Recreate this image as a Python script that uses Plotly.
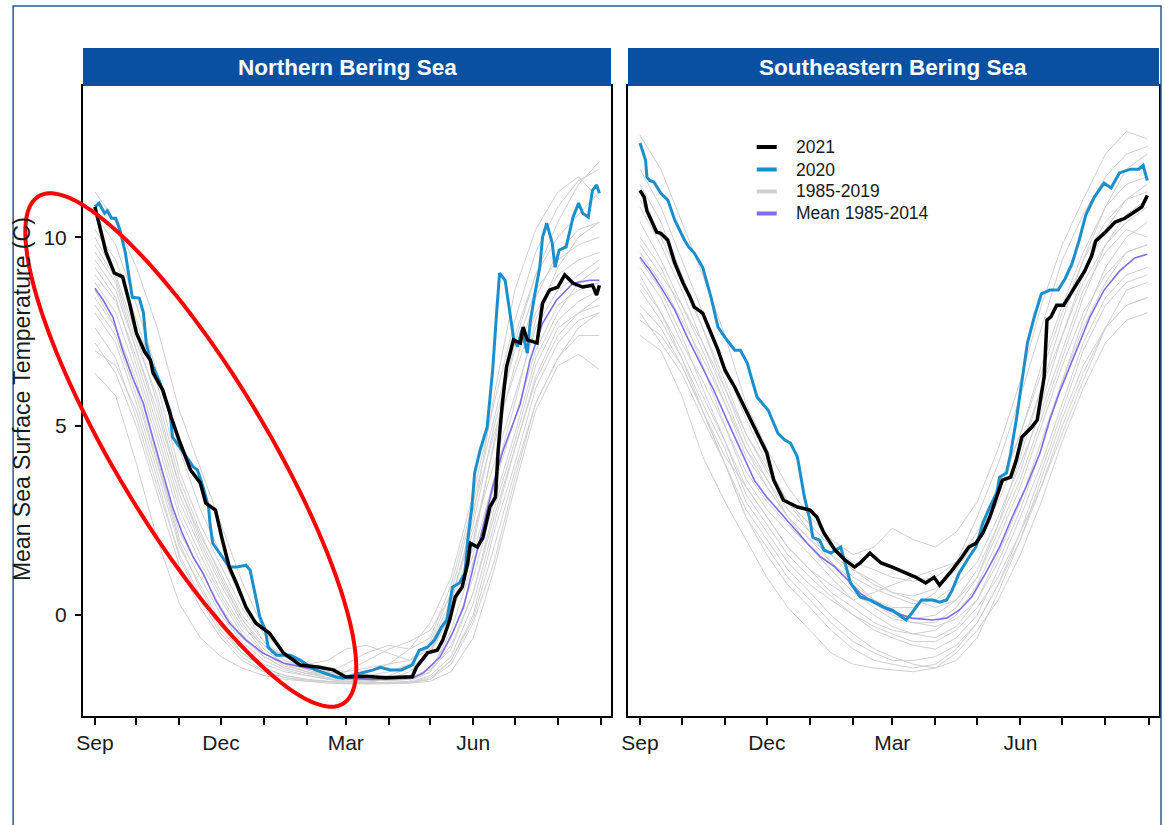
import numpy as np
import pandas as pd
import plotly.graph_objects as go

# ---------------------------------------------------------------------------
# Daily mean sea surface temperature (deg C) by day of season (0 = 1 Sep)
# ---------------------------------------------------------------------------
SEASON_START = pd.Timestamp("2020-09-01")

# Northern Bering Sea -------------------------------------------------------
nbs_2021_day = [0, 8, 14, 20, 25, 30, 36, 40, 42, 49, 55, 61, 69, 76, 80, 87, 92, 97, 102,
                109, 116, 126, 136, 148, 162, 172, 181, 195, 210, 229, 232, 240, 247, 251,
                256, 260, 265, 269, 271, 276, 280, 285, 289, 291, 294, 297, 302, 307, 309,
                312, 319, 323, 328, 334, 339, 345, 352, 359, 362, 364]
nbs_2021_sst = [10.8, 9.6, 9.05, 8.95, 8.25, 7.46, 6.96, 6.75, 6.4, 5.95, 5.24, 4.6, 3.84,
                3.5, 2.96, 2.78, 1.98, 1.27, 0.85, 0.21, -0.21, -0.48, -1.0, -1.32, -1.38,
                -1.45, -1.64, -1.62, -1.66, -1.63, -1.38, -1.0, -0.93, -0.66, -0.13, 0.48,
                0.74, 1.38, 1.9, 1.8, 2.06, 2.86, 3.12, 4.37, 5.6, 6.56, 7.28, 7.2, 7.62,
                7.28, 7.2, 8.25, 8.6, 8.68, 9.0, 8.78, 8.68, 8.73, 8.47, 8.73]

nbs_2020_day = [0, 3, 7, 9, 12, 15, 18, 22, 25, 27, 32, 35, 37, 40, 47, 51, 54, 56, 61, 66,
                71, 74, 78, 82, 83, 85, 87, 92, 97, 102, 109, 112, 114, 119, 123, 125, 131,
                141, 148, 159, 174, 179, 190, 201, 206, 213, 221, 229, 234, 240, 245, 250,
                254, 258, 263, 267, 269, 272, 274, 278, 283, 287, 290, 292, 296, 299, 302,
                305, 308, 312, 314, 317, 321, 323, 326, 330, 332, 335, 340, 345, 349, 352,
                356, 359, 362, 364]
nbs_2020_sst = [10.8, 10.9, 10.63, 10.7, 10.5, 10.5, 10.2, 9.58, 8.86, 8.41, 8.39, 8.0, 7.2,
                6.75, 6.14, 5.69, 5.42, 4.71, 4.45, 4.2, 3.92, 3.84, 3.39, 2.86, 2.43, 1.9,
                1.8, 1.53, 1.27, 1.27, 1.32, 1.19, 0.85, -0.05, -0.4, -0.85, -1.06, -1.06,
                -1.19, -1.45, -1.64, -1.67, -1.55, -1.45, -1.38, -1.45, -1.45, -1.32, -0.93,
                -0.85, -0.66, -0.32, -0.13, 0.74, 0.85, 1.11, 1.98, 2.86, 3.76, 4.37, 4.97,
                6.48, 8.07, 9.05, 8.86, 8.07, 7.35, 7.1, 7.54, 6.93, 7.72, 8.41, 9.2, 10.0,
                10.37, 9.84, 9.2, 9.66, 9.74, 10.53, 10.9, 10.63, 10.53, 11.24, 11.38, 11.16]

nbs_mean_day = [0, 6, 13, 20, 27, 35, 42, 49, 56, 63, 71, 78, 87, 97, 109, 121, 136, 159,
                179, 200, 229, 237, 249, 258, 266, 273, 280, 287, 294, 300, 307, 314, 323,
                333, 345, 357, 364]
nbs_mean_sst = [8.65, 8.33, 7.88, 7.0, 6.3, 5.6, 4.67, 3.76, 2.86, 2.17, 1.53, 1.11, 0.4,
                -0.21, -0.66, -1.0, -1.27, -1.45, -1.67, -1.7, -1.67, -1.53, -1.11, -0.48,
                0.21, 1.27, 2.33, 3.39, 4.3, 4.9, 5.6, 6.75, 7.72, 8.33, 8.78, 8.86, 8.86]

# Southeastern Bering Sea ---------------------------------------------------
sebs_2021_day = [0, 3, 5, 9, 12, 15, 20, 25, 31, 36, 39, 45, 50, 56, 61, 68, 75, 82, 86, 91,
                 96, 103, 113, 122, 127, 132, 140, 147, 154, 158, 165, 173, 181, 191, 198,
                 205, 211, 215, 220, 224, 231, 236, 241, 246, 251, 256, 260, 266, 270, 274,
                 281, 285, 287, 290, 292, 295, 299, 304, 309, 314, 319, 324, 327, 333, 341,
                 348, 352, 360, 364]
sebs_2021_sst = [11.24, 11.06, 10.7, 10.37, 10.13, 10.1, 9.92, 9.31, 8.78, 8.41, 8.15, 7.99,
                 7.54, 7.01, 6.48, 6.03, 5.5, 4.97, 4.63, 4.29, 3.57, 3.04, 2.86, 2.78, 2.59,
                 2.17, 1.72, 1.46, 1.27, 1.38, 1.64, 1.38, 1.27, 1.11, 1.0, 0.85, 1.0, 0.79,
                 1.0, 1.19, 1.53, 1.8, 1.9, 2.17, 2.59, 3.12, 3.57, 3.65, 4.1, 4.71, 4.97,
                 5.16, 5.6, 6.3, 7.8, 7.9, 8.2, 8.2, 8.5, 8.8, 9.1, 9.5, 9.9, 10.1, 10.4, 10.5,
                 10.6, 10.8, 11.1]

sebs_2020_day = [0, 4, 5, 7, 10, 15, 20, 25, 32, 35, 39, 45, 51, 56, 61, 68, 72, 77, 79, 84,
                 92, 99, 104, 108, 113, 118, 122, 124, 129, 132, 137, 144, 148, 151, 158,
                 165, 175, 181, 191, 195, 202, 210, 215, 220, 224, 229, 236, 241, 246, 251,
                 256, 258, 263, 266, 270, 274, 278, 283, 288, 294, 300, 305, 310, 315, 320,
                 326, 333, 338, 344, 352, 358, 361, 364]
sebs_2020_sst = [12.49, 12.04, 11.59, 11.5, 11.46, 11.16, 10.98, 10.45, 9.92, 9.74, 9.58,
                 9.2, 8.41, 7.62, 7.35, 7.01, 7.01, 6.67, 6.4, 5.77, 5.42, 4.81, 4.63, 4.55,
                 4.18, 3.12, 2.51, 2.06, 1.98, 1.72, 1.64, 1.8, 1.27, 0.85, 0.48, 0.4, 0.21,
                 0.13, -0.13, 0.05, 0.4, 0.4, 0.34, 0.4, 0.66, 1.11, 1.53, 1.8, 2.43, 2.86,
                 3.23, 3.65, 3.76, 4.29, 5.16, 6.2, 7.2, 7.9, 8.5, 8.6, 8.6, 8.9, 9.3, 9.9,
                 10.6, 11.06, 11.43, 11.3, 11.7, 11.8, 11.8, 11.9, 11.5]

sebs_mean_day = [0, 7, 15, 25, 34, 43, 53, 62, 70, 82, 91, 101, 111, 120, 130, 140, 149, 158,
                 168, 178, 195, 210, 220, 229, 238, 248, 258, 267, 277, 287, 294, 301, 312,
                 323, 333, 344, 355, 364]
sebs_mean_sst = [9.47, 9.13, 8.68, 8.07, 7.35, 6.67, 5.95, 5.2, 4.55, 3.57, 3.12, 2.7, 2.25,
                 1.9, 1.53, 1.27, 0.93, 0.58, 0.32, 0.13, -0.08, -0.13, -0.08, 0.13, 0.48,
                 1.11, 1.8, 2.59, 3.39, 4.29, 5.16, 5.9, 6.9, 7.9, 8.6, 9.1, 9.45, 9.55]

# Individual years 1985-2019, sampled twice a month ---------------------------
hist_dates = ["2020-09-01", "2020-09-16", "2020-10-01", "2020-10-16", "2020-11-01",
              "2020-11-16", "2020-12-01", "2020-12-16", "2021-01-01", "2021-01-16",
              "2021-02-01", "2021-02-16", "2021-03-01", "2021-03-16", "2021-04-01",
              "2021-04-16", "2021-05-01", "2021-05-16", "2021-06-01", "2021-06-16",
              "2021-07-01", "2021-07-16", "2021-08-01", "2021-08-16", "2021-08-31"]

nbs_hist = [
    [11.2, 10.4, 9.2, 7.6, 5.4, 3.9, 2.4, 0.9, -0.4, -1.1, -1.4, -1.5, -1.6, -1.5, -1.3, -0.9, -0.2, 1.0, 3.2, 5.6, 7.8, 9.6, 10.8, 11.5, 11.8],
    [9.8, 8.9, 7.2, 5.8, 3.6, 2.2, 1.0, -0.1, -0.9, -1.3, -1.5, -1.7, -1.75, -1.78, -1.7, -1.5, -1.0, 0.2, 2.0, 4.5, 6.6, 8.4, 9.6, 10.2, 10.4],
    [7.2, 6.4, 5.0, 3.2, 1.3, 0.2, -0.6, -1.2, -1.5, -1.65, -1.72, -1.75, -1.78, -1.8, -1.8, -1.78, -1.6, -1.1, 0.3, 2.4, 4.4, 6.3, 7.6, 8.0, 8.2],
    [8.8, 8.0, 6.4, 4.6, 2.6, 1.4, 0.4, -0.5, -1.1, -1.4, -1.55, -1.6, -1.5, -1.2, -0.9, -0.7, -0.4, 0.5, 2.2, 4.0, 5.8, 7.6, 8.6, 9.0, 9.4],
    [6.4, 5.8, 4.0, 2.0, 0.3, -0.6, -1.1, -1.4, -1.6, -1.7, -1.75, -1.78, -1.8, -1.82, -1.82, -1.8, -1.75, -1.5, -0.6, 1.2, 3.4, 5.4, 6.6, 6.9, 6.5],
    [10.2, 9.4, 7.8, 6.1, 3.8, 2.4, 1.3, 0.2, -0.7, -1.2, -1.45, -1.6, -1.7, -1.72, -1.7, -1.6, -1.0, 0.3, 2.6, 5.8, 8.6, 10.2, 11.2, 11.6, 11.0],
    [8.0, 7.2, 5.6, 3.8, 1.8, 0.8, -0.2, -0.9, -1.3, -1.5, -1.6, -1.7, -1.75, -1.78, -1.78, -1.75, -1.5, -0.8, 0.6, 2.8, 4.6, 6.6, 7.8, 8.3, 8.6],
    [9.0, 8.3, 6.8, 5.0, 3.0, 1.8, 0.6, -0.3, -0.8, -1.1, -1.3, -1.2, -0.9, -0.8, -1.0, -1.2, -0.9, 0.0, 1.8, 4.6, 7.2, 9.0, 10.4, 11.4, 12.0],
    [7.6, 6.8, 5.2, 3.4, 1.6, 0.5, -0.4, -1.0, -1.4, -1.6, -1.7, -1.75, -1.8, -1.8, -1.8, -1.78, -1.7, -1.3, -0.2, 1.4, 3.6, 5.6, 6.8, 7.6, 8.0],
    [9.4, 8.6, 7.0, 5.2, 3.2, 1.9, 0.8, -0.2, -1.0, -1.35, -1.5, -1.6, -1.65, -1.6, -1.5, -1.3, -0.8, 0.4, 2.4, 5.0, 7.0, 8.6, 9.4, 9.8, 10.0],
    [8.4, 7.6, 6.2, 4.2, 2.0, 1.0, 0.0, -0.7, -1.2, -1.45, -1.6, -1.68, -1.72, -1.75, -1.72, -1.7, -1.4, -0.6, 1.0, 3.0, 4.8, 6.8, 8.0, 8.8, 9.2],
    [10.6, 9.8, 8.2, 6.4, 4.4, 2.8, 1.6, 0.4, -0.5, -1.0, -1.3, -1.5, -1.6, -1.65, -1.6, -1.4, -1.0, 0.0, 1.6, 3.6, 5.6, 7.8, 9.2, 10.0, 10.4],
    [9.2, 8.4, 6.6, 4.8, 2.8, 1.6, 0.5, -0.4, -1.0, -1.3, -1.5, -1.6, -1.65, -1.7, -1.7, -1.65, -1.45, -0.9, 0.6, 2.6, 4.4, 6.2, 7.4, 8.0, 8.4],
    [8.6, 7.6, 6.0, 4.0, 1.9, 0.7, -0.3, -1.0, -1.4, -1.6, -1.7, -1.76, -1.8, -1.8, -1.8, -1.8, -1.7, -1.2, 0.0, 2.2, 4.0, 6.0, 7.2, 7.8, 8.0],
    [10.0, 9.0, 7.4, 5.6, 3.4, 2.0, 0.9, -0.1, -0.8, -1.2, -1.4, -1.5, -1.3, -1.0, -0.8, -0.9, -0.6, 0.8, 3.0, 5.2, 7.4, 9.0, 10.0, 10.6, 11.2],
    [7.0, 6.6, 5.4, 3.6, 1.5, 0.4, -0.5, -1.1, -1.5, -1.65, -1.75, -1.8, -1.82, -1.82, -1.8, -1.78, -1.65, -1.2, -0.1, 1.8, 3.8, 5.6, 6.8, 7.4, 7.4],
    [9.6, 8.8, 7.0, 5.4, 3.4, 2.1, 1.1, 0.0, -0.7, -1.1, -1.3, -1.4, -1.5, -1.4, -1.3, -1.2, -0.7, 0.6, 2.8, 4.8, 6.4, 8.0, 9.0, 9.4, 9.6],
    [8.2, 7.4, 5.8, 4.0, 2.2, 1.2, 0.2, -0.6, -1.1, -1.4, -1.55, -1.65, -1.7, -1.72, -1.74, -1.7, -1.5, -0.4, 1.4, 3.4, 5.2, 7.0, 8.2, 8.6, 8.8],
]

sebs_hist = [
    [12.7, 11.8, 10.4, 9.0, 7.4, 5.6, 4.4, 3.4, 2.6, 2.0, 1.6, 1.8, 2.3, 2.0, 1.8, 2.2, 3.0, 4.4, 6.2, 8.2, 9.8, 11.0, 12.2, 12.8, 12.6],
    [11.0, 10.0, 8.8, 7.6, 6.2, 4.8, 3.9, 3.0, 2.4, 1.8, 1.2, 0.8, 0.6, 0.5, 0.7, 1.2, 2.0, 3.2, 4.8, 6.6, 8.2, 9.6, 10.8, 11.4, 11.6],
    [8.0, 7.2, 6.4, 5.2, 4.0, 2.8, 2.0, 1.2, 0.6, 0.0, -0.5, -0.9, -1.1, -1.3, -1.4, -1.2, -0.6, 0.6, 2.0, 3.6, 5.2, 6.6, 7.6, 8.2, 8.4],
    [9.6, 8.8, 7.8, 6.8, 5.6, 4.2, 3.4, 2.6, 2.0, 1.6, 1.0, 0.7, 0.5, 0.3, 0.4, 0.8, 1.4, 2.6, 4.0, 5.4, 7.0, 8.6, 9.6, 10.2, 10.0],
    [7.4, 7.0, 5.8, 4.2, 3.0, 2.0, 1.0, 0.2, -0.4, -1.0, -1.3, -1.4, -1.45, -1.5, -1.4, -1.0, -0.4, 0.4, 1.6, 3.0, 4.6, 6.0, 7.2, 7.8, 8.0],
    [10.4, 9.4, 8.2, 7.0, 5.6, 4.4, 3.6, 2.8, 2.2, 1.6, 1.2, 0.9, 0.6, 0.4, 0.2, 0.4, 1.0, 2.2, 3.6, 5.2, 6.8, 8.4, 9.8, 10.6, 11.0],
    [9.0, 8.0, 7.0, 5.8, 4.6, 3.2, 2.4, 1.6, 1.0, 0.5, 0.0, -0.4, -0.6, -0.8, -0.9, -0.6, 0.0, 1.2, 2.6, 4.0, 5.6, 7.2, 8.4, 9.0, 9.2],
    [11.8, 10.8, 9.4, 8.0, 6.6, 5.2, 4.0, 3.0, 2.2, 1.4, 0.9, 0.4, 0.2, 0.2, 0.6, 1.4, 2.6, 4.0, 5.8, 7.6, 9.4, 10.6, 11.6, 12.2, 12.4],
    [8.6, 7.8, 6.8, 5.6, 4.4, 3.0, 2.2, 1.4, 0.8, 0.4, 0.0, -0.3, -0.5, -0.7, -0.7, -0.4, 0.2, 1.0, 2.2, 3.4, 4.8, 6.2, 7.6, 8.6, 8.8],
    [10.0, 9.2, 8.0, 6.6, 5.0, 3.6, 2.8, 2.2, 1.6, 1.0, 0.4, 0.0, -0.3, -0.5, -0.4, 0.0, 0.8, 2.0, 3.4, 5.0, 6.6, 8.0, 9.0, 9.6, 9.8],
    [9.2, 8.4, 7.2, 6.2, 5.0, 3.8, 3.0, 2.4, 1.8, 1.2, 0.6, 0.2, -0.1, -0.2, -0.3, -0.1, 0.4, 1.4, 2.8, 4.4, 6.2, 7.8, 9.2, 10.0, 10.4],
    [8.2, 7.6, 6.6, 5.4, 4.2, 3.4, 2.6, 1.8, 1.2, 0.8, 0.4, 0.6, 0.8, 1.0, 1.2, 1.4, 2.0, 3.0, 4.4, 6.0, 7.4, 8.8, 9.8, 10.4, 10.8],
    [10.8, 9.8, 8.6, 7.2, 5.8, 4.4, 3.4, 2.6, 2.0, 1.4, 0.8, 0.4, 0.1, -0.1, 0.0, 0.4, 1.2, 2.4, 3.8, 5.6, 7.4, 9.0, 10.2, 11.0, 11.4],
    [8.8, 8.0, 6.8, 5.4, 4.0, 2.6, 1.8, 1.0, 0.4, -0.2, -0.7, -1.0, -1.2, -1.2, -1.1, -0.8, -0.2, 0.8, 2.2, 3.8, 5.4, 7.0, 8.2, 8.8, 9.0],
    [9.8, 9.0, 8.2, 7.2, 6.0, 4.8, 3.8, 3.0, 2.4, 1.8, 1.4, 1.2, 1.0, 0.9, 1.0, 1.4, 2.2, 3.4, 4.8, 6.4, 8.0, 9.4, 10.4, 11.0, 11.2],
    [7.8, 7.4, 6.6, 5.4, 4.0, 2.6, 1.6, 0.8, 0.2, -0.4, -0.9, -1.2, -1.3, -1.4, -1.3, -0.9, -0.2, 0.8, 2.0, 3.4, 5.0, 6.4, 7.6, 8.2, 8.4],
    [11.4, 10.4, 9.0, 7.6, 6.0, 4.6, 3.6, 2.6, 1.8, 1.2, 0.6, 0.3, 0.0, -0.2, -0.2, 0.2, 1.0, 2.4, 4.2, 6.0, 7.8, 9.4, 10.8, 11.8, 12.2],
    [9.4, 8.6, 7.4, 6.0, 4.6, 3.4, 2.6, 1.8, 1.2, 0.6, 0.2, -0.2, -0.4, -0.5, -0.6, -0.3, 0.4, 1.6, 3.0, 4.6, 6.2, 7.6, 8.8, 9.6, 9.8],
]

# Axis and key labels ---------------------------------------------------------
month_starts = ["2020-09-01", "2020-10-01", "2020-11-01", "2020-12-01", "2021-01-01",
                "2021-02-01", "2021-03-01", "2021-04-01", "2021-05-01", "2021-06-01",
                "2021-07-01", "2021-08-01", "2021-09-01"]
major_ticks = ["2020-09-01", "2020-12-01", "2021-03-01", "2021-06-01"]
major_labels = ["Sep", "Dec", "Mar", "Jun"]
y_ticks = [0, 5, 10]
panel_titles = ["Northern Bering Sea", "Southeastern Bering Sea"]
key_labels = ["2021", "2020", "1985-2019", "Mean 1985-2014"]

# Styling --------------------------------------------------------------------
FONT = "Arial, 'Liberation Sans', sans-serif"
C_2021 = "#000000"
C_2020 = "#1b8fcb"
C_HIST = "#d0d0d0"
C_MEAN = "#7f6df0"
STRIP = "#0a50a2"
FRAME = "#2c5b8c"
TXT = "#1a1a1a"
key_colors = [C_2021, C_2020, C_HIST, C_MEAN]

W, H = 1165, 825
ML, MR, MT, MB = 83, 4, 86, 109
PW = W - ML - MR
PH = H - MT - MB


def to_dates(days):
    return SEASON_START + pd.to_timedelta(np.asarray(days, dtype=float), unit="D")


def px_x(x):
    return (x - ML) / PW


def px_y(y):
    return 1 - (y - MT) / PH


fig = go.Figure()

panels = [
    ("x", "y", nbs_hist, (nbs_mean_day, nbs_mean_sst), (nbs_2020_day, nbs_2020_sst),
     (nbs_2021_day, nbs_2021_sst)),
    ("x2", "y2", sebs_hist, (sebs_mean_day, sebs_mean_sst), (sebs_2020_day, sebs_2020_sst),
     (sebs_2021_day, sebs_2021_sst)),
]

for xa, ya, hist, mean, s2020, s2021 in panels:
    for series in hist:
        fig.add_trace(go.Scatter(x=pd.to_datetime(hist_dates), y=series, mode="lines",
                                 line=dict(color=C_HIST, width=1), xaxis=xa, yaxis=ya,
                                 name="1985-2019", showlegend=False, hoverinfo="skip"))
    fig.add_trace(go.Scatter(x=to_dates(mean[0]), y=mean[1], mode="lines",
                             line=dict(color=C_MEAN, width=1.6), xaxis=xa, yaxis=ya,
                             name="Mean 1985-2014", showlegend=False))
    fig.add_trace(go.Scatter(x=to_dates(s2020[0]), y=s2020[1], mode="lines",
                             line=dict(color=C_2020, width=3), xaxis=xa, yaxis=ya,
                             name="2020", showlegend=False))
    fig.add_trace(go.Scatter(x=to_dates(s2021[0]), y=s2021[1], mode="lines",
                             line=dict(color=C_2021, width=3.5), xaxis=xa, yaxis=ya,
                             name="2021", showlegend=False))

x_range = [to_dates([-8.6])[0], to_dates([372.4])[0]]
dom1 = [0, px_x(612)]
dom2 = [px_x(629), 1]

xcommon = dict(type="date", range=x_range, tickmode="array", tickvals=major_ticks,
               ticktext=major_labels, ticks="outside", ticklen=7, tickwidth=1.5,
               tickcolor="black", showline=True, linecolor="black", linewidth=2,
               mirror=True, showgrid=False, zeroline=False,
               tickfont=dict(family=FONT, size=21, color=TXT),
               minor=dict(tickmode="array", tickvals=month_starts, ticks="outside",
                          ticklen=7, tickwidth=1.5, tickcolor="black", showgrid=False))
ycommon = dict(range=[-2.67, 14.0], showline=True, linecolor="black", linewidth=2,
               mirror=True, showgrid=False, zeroline=False)

fig.update_layout(
    width=W, height=H,
    margin=dict(l=ML, r=MR, t=MT, b=MB),
    paper_bgcolor="white", plot_bgcolor="white",
    font=dict(family=FONT, color=TXT),
    xaxis=dict(domain=dom1, anchor="y", **xcommon),
    xaxis2=dict(domain=dom2, anchor="y2", **xcommon),
    yaxis=dict(domain=[0, 1], anchor="x", tickmode="array", tickvals=y_ticks,
               ticks="outside", ticklen=6, tickwidth=1.5, tickcolor="black",
               ticklabelstandoff=4,
               tickfont=dict(family=FONT, size=21, color=TXT), **ycommon),
    yaxis2=dict(domain=[0, 1], anchor="x2", matches="y", showticklabels=False,
                ticks="", **ycommon),
    showlegend=False,
)

shapes = []
annotations = []
strip_top = px_y(48)
for dom, title in zip([dom1, dom2], panel_titles):
    shapes.append(dict(type="rect", xref="paper", yref="paper", x0=dom[0], x1=dom[1],
                       y0=1, y1=strip_top, fillcolor=STRIP, line=dict(width=0),
                       layer="above"))
    annotations.append(dict(text="<b>%s</b>" % title, xref="paper", yref="paper",
                            x=(dom[0] + dom[1]) / 2, y=(1 + strip_top) / 2,
                            xanchor="center", yanchor="middle", showarrow=False,
                            font=dict(family=FONT, size=22.5, color="white")))

# key inside the Southeastern panel
key_rows = [147, 169.5, 191.5, 213.5]
for label, col, ry in zip(key_labels, key_colors, key_rows):
    shapes.append(dict(type="line", xref="paper", yref="paper", x0=px_x(758), x1=px_x(778),
                       y0=px_y(ry), y1=px_y(ry), line=dict(color=col, width=4)))
    annotations.append(dict(text=label, xref="paper", yref="paper", x=px_x(795),
                            y=px_y(ry), xanchor="left", yanchor="middle", showarrow=False,
                            font=dict(family=FONT, size=17.5, color=TXT)))

# y axis title
annotations.append(dict(text="Mean Sea Surface Temperature (C)", xref="paper",
                        yref="paper", x=px_x(22), y=px_y(399), textangle=-90,
                        xanchor="center", yanchor="middle", showarrow=False,
                        font=dict(family=FONT, size=23, color=TXT)))

# outer frame
shapes.append(dict(type="rect", xref="paper", yref="paper", x0=px_x(13), x1=px_x(1163),
                   y0=px_y(840), y1=px_y(6), line=dict(color=FRAME, width=1.5),
                   fillcolor="rgba(0,0,0,0)", layer="above"))

# red highlight ellipse around the autumn cooling period
cx, cy, a, b, ang = 191, 450, 296, 76, np.deg2rad(59)
t = np.linspace(0, 2 * np.pi, 181)
ex = cx + a * np.cos(t) * np.cos(ang) - b * np.sin(t) * np.sin(ang)
ey = cy + a * np.cos(t) * np.sin(ang) + b * np.sin(t) * np.cos(ang)
path = "M " + " L ".join("%.5f,%.5f" % (px_x(u), px_y(v)) for u, v in zip(ex, ey)) + " Z"
shapes.append(dict(type="path", xref="paper", yref="paper", path=path,
                   line=dict(color="#ff0000", width=4), fillcolor="rgba(0,0,0,0)",
                   layer="above"))

fig.update_layout(shapes=shapes, annotations=annotations)
fig.write_html("out.html")
